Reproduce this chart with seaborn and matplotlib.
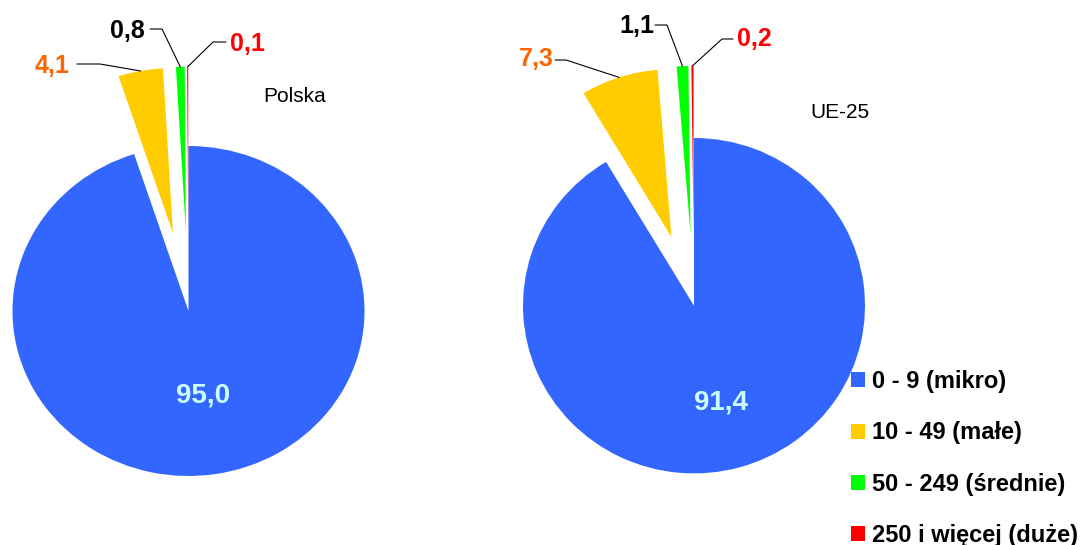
import numpy as np
import matplotlib
matplotlib.use('Agg')
import matplotlib.pyplot as plt
from matplotlib.patches import Patch
import seaborn as sns

# Dane: udział przedsiębiorstw wg klas wielkości (%)
kategorie = ['0 - 9 (mikro)', '10 - 49 (małe)', '50 - 249 (średnie)', '250 i więcej (duże)']
polska = [95.0, 4.1, 0.8, 0.1]
ue25 = [91.4, 7.3, 1.1, 0.2]
tytuly = ['Polska', 'UE-25']

kolory = ['#3366FF', '#FFCC00', '#00FF00', '#FF0000']
kolory_etykiet = ['#CCFFFF', '#FF6600', '#000000', '#FF0000']

sns.set_style('white')
plt.rcParams['font.family'] = ['Liberation Sans', 'DejaVu Sans']
plt.rcParams['text.color'] = 'black'

W, H = 1082, 545
fig = plt.figure(figsize=(W / 100, H / 100), dpi=100)

# Ustawienia układu każdego wykresu (piksele obrazu, y od góry)
uklady = [
    dict(cx=188.5, cy=311, rx=176, ry=165, explode=0.48, f_in=0.52,
         etykiety=[None, (52, 66), (127, 31), (247, 44)],
         linie=[None, [(77, 64), (100, 64)], [(150, 29), (162, 29)], [(226, 42), (213, 42)]],
         tytul=(295, 97)),
    dict(cx=694, cy=305.7, rx=171, ry=167.7, explode=0.43, f_in=0.6,
         etykiety=[None, (536, 59), (637, 26), (754, 39)],
         linie=[None, [(555, 60), (566, 60)], [(655, 25), (667, 25)], [(733, 39), (722, 39)]],
         tytul=(840, 112)),
]


def fmt(v):
    return f'{v:.1f}'.replace('.', ',')


for wartosci, tytul, u in zip([polska, ue25], tytuly, uklady):
    ax = fig.add_axes([0, 0, 1, 1])
    explode = [0] + [u['explode']] * (len(wartosci) - 1)
    wedges, _ = ax.pie(wartosci, colors=kolory, explode=explode, startangle=90,
                       counterclock=False, wedgeprops=dict(linewidth=0))
    ax.set_aspect('auto')
    ax.set_xlim(-u['cx'] / u['rx'], (W - u['cx']) / u['rx'])
    ax.set_ylim((u['cy'] - H) / u['ry'], u['cy'] / u['ry'])
    ax.set_axis_off()

    def px(x, y):
        return (x - u['cx']) / u['rx'], (u['cy'] - y) / u['ry']

    for i, (w, v) in enumerate(zip(wedges, wartosci)):
        mid = np.deg2rad((w.theta1 + w.theta2) / 2)
        if i == 0:
            # etykieta wewnątrz największego wycinka
            x = w.center[0] + u['f_in'] * w.r * np.cos(mid)
            y = w.center[1] + u['f_in'] * w.r * np.sin(mid)
            ax.text(x, y, fmt(v), color=kolory_etykiet[i], fontsize=20,
                    fontweight='bold', ha='center', va='center')
            continue
        # punkt na zewnętrznej krawędzi wycinka
        ex = w.center[0] + w.r * np.cos(mid)
        ey = w.center[1] + w.r * np.sin(mid)
        (x0, y0), (x1, y1) = [px(*p) for p in u['linie'][i]]
        ax.plot([x0, x1, ex], [y0, y1, ey], color='black', lw=0.8)
        tx, ty = px(*u['etykiety'][i])
        ax.text(tx, ty, fmt(v), color=kolory_etykiet[i], fontsize=18,
                fontweight='bold', ha='center', va='center')

    tx, ty = px(*u['tytul'])
    ax.text(tx, ty, tytul, fontsize=15, ha='center', va='center', color='black')

uchwyty = [Patch(facecolor=c, edgecolor='none') for c in kolory]
fig.legend(uchwyty, kategorie, loc='upper left', bbox_to_anchor=(851 / W, 1 - 370 / H),
           frameon=False, borderpad=0, borderaxespad=0, handlelength=0.6,
           handleheight=0.6, handletextpad=0.3, labelspacing=1.2,
           prop=dict(size=17, weight='bold'))

fig.savefig('out.png', dpi=100)
